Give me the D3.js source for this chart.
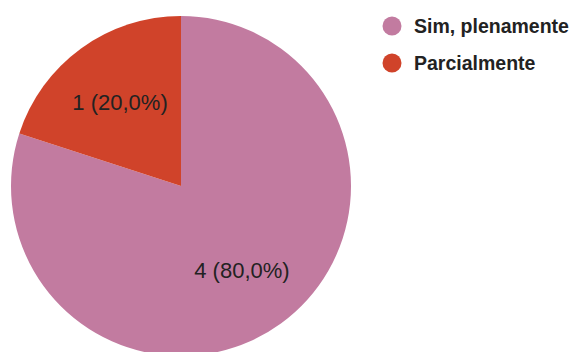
<!DOCTYPE html>
<html>
<head>
  <meta charset="UTF-8">
  <title>Pie</title>
  <style>
    body { margin: 0; background: #fff; }
    svg { display: block; }
  </style>
</head>
<body>
  <svg id="pie" width="575" height="352"></svg>

  <script src="https://d3js.org/d3.v7.min.js"></script>
  <script>
    // data
    var categories = ["Sim, plenamente", "Parcialmente"];
    var counts = [4, 1];
    var colors = ["#c27ba0", "#d0432a"];

    var svg = d3.select("#pie"),
      cx = 181, cy = 186, radius = 170;

    var total = d3.sum(counts);
    var data = categories.map(function(c, i) { return {name: c, value: counts[i]}; });

    var color = d3.scaleOrdinal().domain(categories).range(colors);

    // clockwise from 12 o'clock, keeping the data order
    var pie = d3.pie().sort(null).value(function(d) { return d.value; });

    var arc = d3.arc().innerRadius(0).outerRadius(radius);
    var labelArc = d3.arc().innerRadius(radius * 0.61).outerRadius(radius * 0.61);

    var g = svg.append("g").attr("transform", "translate(" + cx + "," + cy + ")");

    var fmt = function(v) {
      return (v / total * 100).toFixed(1).replace(".", ",") + "%";
    };

    var slices = g.selectAll(".slice")
      .data(pie(data))
      .enter().append("g")
        .attr("class", "slice");

    slices.append("path")
        .attr("d", arc)
        .attr("fill", function(d) { return color(d.data.name); });

    slices.append("text")
        .attr("transform", function(d) { return "translate(" + labelArc.centroid(d) + ")"; })
        .attr("dy", "0.35em")
        .attr("text-anchor", "middle")
        .style("font", "22px 'Liberation Sans', Arial, sans-serif")
        .attr("fill", "#222")
        .text(function(d) { return d.data.value + " (" + fmt(d.data.value) + ")"; });

    // legend top right
    var legend = svg.selectAll(".legend")
      .data(categories)
      .enter().append("g")
        .attr("class", "legend")
        .attr("transform", function(d, i) { return "translate(392," + (26 + i * 37) + ")"; });

    legend.append("circle")
        .attr("r", 9.5)
        .attr("fill", color);

    legend.append("text")
        .attr("x", 22)
        .attr("dy", "0.35em")
        .style("font", "bold 19.5px 'Liberation Sans', Arial, sans-serif")
        .attr("fill", "#222")
        .text(function(d) { return d; });
  </script>
</body>
</html>
